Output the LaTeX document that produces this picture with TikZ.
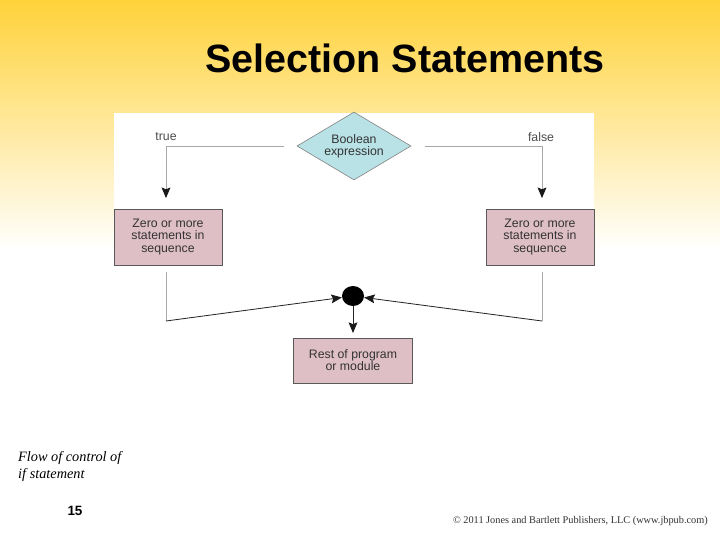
\documentclass[tikz,border=0pt]{standalone}
\usepackage{xcolor}
\usepackage{fontspec}
\setmainfont{Liberation Sans}
\newfontfamily\timesfont{Liberation Serif}
\usepackage{tikz}
\usetikzlibrary{arrows.meta,shapes.geometric,positioning}
\definecolor{slidetop}{HTML}{FFD23A}
\definecolor{stmtfill}{HTML}{DEBFC6}
\definecolor{condfill}{HTML}{B9E2E6}
\definecolor{flowgray}{HTML}{A8A8A8}
\tikzset{
  stmt/.style={rectangle,draw=black!65,fill=stmtfill,line width=0.6pt,
    align=center,inner sep=0pt,text=black!80,font=\fontsize{10.5}{10.3}\selectfont},
  cond/.style={diamond,draw=black!50,fill=condfill,line width=0.5pt,
    align=center,inner sep=0pt,aspect=1.68,minimum width=3.42cm,
    minimum height=2.04cm,text=black!80,font=\fontsize{10.5}{10.3}\selectfont},
  lbl/.style={font=\fontsize{10.5}{12}\selectfont,text=black!70}
}
\begin{document}
\begin{tikzpicture}[x=0.03cm,y=-0.03cm,>={Stealth[black!90,length=9pt,width=7.5pt,inset=1.5pt]}]
  \useasboundingbox (0,0) rectangle (720,540);
  % slide background
  \fill[white] (0,0) rectangle (720,540);
  \shade[top color=slidetop,bottom color=white] (0,0) rectangle (720,250);
  \fill[white] (114,113) rectangle (594,400);
  \node[font=\bfseries\fontsize{33.7}{36}\selectfont] (title) at (405,58) {Selection Statements};

  \node[cond] (bool) at (354,146) {Boolean\\expression};
  \node[stmt,minimum width=3.24cm,minimum height=1.68cm] (tbox) at (168,237)
    {Zero or more\\statements in\\sequence};
  \node[stmt,minimum width=3.24cm,minimum height=1.68cm] (fbox) at (540,237)
    {Zero or more\\statements in\\sequence};
  \node[circle,fill=black,minimum width=0.6cm,minimum height=0.54cm,inner sep=0pt,
    xscale=1.1] (join) at (353,296) {};
  \node[stmt,minimum width=3.57cm,minimum height=1.35cm] (rest) at (353,360.5)
    {Rest of program\\or module};

  \node[lbl] (true) at (166,137) {true};
  \node[lbl] (false) at (541,137) {false};

  \coordinate (tcorner) at (166,321);
  \coordinate (fcorner) at (542,321);

  \draw[->,flowgray,line width=0.8pt,shorten >=9pt]
    ([xshift=-0.39cm]bool.west) -| (tbox.north -| tcorner);
  \draw[->,flowgray,line width=0.8pt,shorten >=9pt]
    ([xshift=0.42cm]bool.east) -| (fbox.north -| fcorner);
  \draw[flowgray,line width=0.8pt] ([yshift=-0.21cm]tbox.south -| tcorner) -- (tcorner);
  \draw[flowgray,line width=0.8pt] ([yshift=-0.21cm]fbox.south -| fcorner) -- (fcorner);
  \draw[->,line width=0.7pt,black!85] (tcorner) -- (join);
  \draw[->,line width=0.7pt,black!85] (fcorner) -- (join);
  \draw[->,line width=0.7pt,black!85,shorten >=4pt] (join) -- (rest);

  \node[anchor=north west,align=left,inner sep=0pt,
    font=\timesfont\itshape\fontsize{12.2}{14.5}\selectfont] (caption) at (18,451)
    {Flow of control of\\if statement};
  \node[font=\bfseries\fontsize{11.5}{12}\selectfont] (page) at (75,511) {15};
  \node[anchor=east,inner sep=0pt,text=black!80,
    font=\timesfont\fontsize{8.8}{10}\selectfont] (copy) at (708,521)
    {\textcopyright{} 2011 Jones and Bartlett Publishers, LLC (www.jbpub.com)};
\end{tikzpicture}
\end{document}
